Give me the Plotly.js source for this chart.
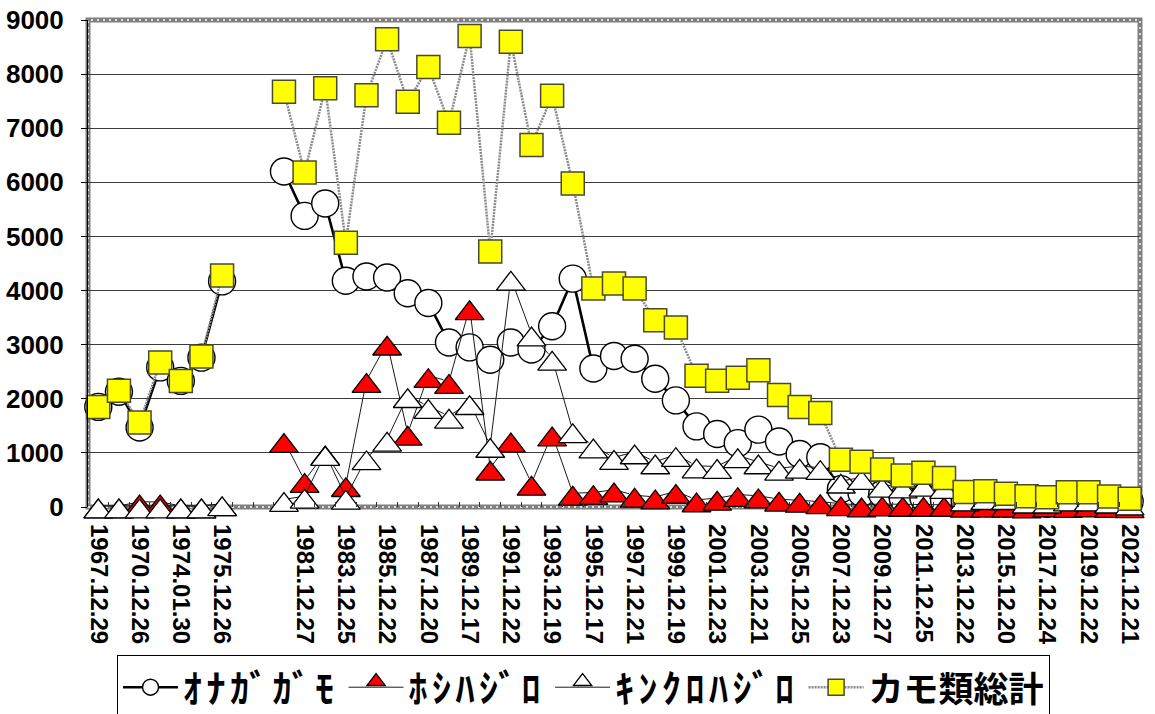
<!DOCTYPE html>
<html>
<head>
<meta charset="utf-8">
<script src="https://cdn.plot.ly/plotly-3.0.1.min.js"></script>
<style>
html,body{margin:0;padding:0;background:#fff;}
#chart{width:1155px;height:714px;}
</style>
</head>
<body>
<div id="chart"></div>
<script>
// Survey dates (categories). "gap1"/"gap2" are empty categories with no survey.
const dates = [
  "1967.12.29","1968.12.29","1970.12.26","1972.12.24","1974.01.30","1974.12.29","1975.12.26",
  "gap1","gap2",
  "1980.12.28","1981.12.27","1982.12.26","1983.12.25","1984.12.23","1985.12.22","1986.12.21",
  "1987.12.20","1988.12.18","1989.12.17","1990.12.23","1991.12.22","1992.12.20","1993.12.19",
  "1994.12.18","1995.12.17","1996.12.22","1997.12.21","1998.12.20","1999.12.19","2000.12.24",
  "2001.12.23","2002.12.22","2003.12.21","2004.12.19","2005.12.25","2006.12.24","2007.12.23",
  "2008.12.21","2009.12.27","2010.12.26","2011.12.25","2012.12.23","2013.12.22","2014.12.21",
  "2015.12.20","2016.12.25","2017.12.24","2018.12.23","2019.12.22","2020.12.20","2021.12.21"
];
// Tick labels: every other category, blanks for empty categories
const tickLabels = dates.map((d, i) => (i % 2 === 0 && d.indexOf('.') > 0) ? d : '');

const seriesNames = ["ｵﾅｶﾞｶﾞﾓ", "ﾎｼﾊｼﾞﾛ", "ｷﾝｸﾛﾊｼﾞﾛ", "カモ類総計"];

const onagagamo = [1850,2130,1470,2580,2330,2760,4170, null,null,
  6200,5380,5610,4180,4260,4240,3950,3770,3040,2950,2720,3040,2910,3340,4220,2560,2790,2740,
  2370,1970,1490,1350,1180,1430,1210,980,920,330,260,240,160,170,120,100,90,60,150,60,100,90,70,100];

const hoshihajiro = [20,20,95,95,20,20,60, null,null,
  1230,490,1000,415,2340,3030,1365,2430,2320,3685,720,1240,440,1350,255,268,318,218,
  185,290,133,163,231,207,145,126,100,60,40,55,50,50,50,35,35,35,20,40,30,40,30,25];

const kinkurohajiro = [20,20,20,20,20,20,60, null,null,
  140,200,990,180,910,1255,2060,1860,1680,1930,1140,4230,3200,2750,1410,1130,915,1020,
  835,970,760,750,950,835,718,755,730,480,545,405,390,420,380,150,175,175,110,110,150,150,110,75];

const kamoTotal = [1850,2150,1560,2670,2330,2780,4280, null,null,
  7675,6180,7740,4885,7610,8645,7490,8130,7100,8705,4720,8600,6690,7600,5980,4040,4130,4040,
  3450,3315,2425,2335,2390,2525,2070,1850,1735,875,835,695,580,632,535,275,290,245,200,181,274,274,194,152];

const yTicks = [0,1000,2000,3000,4000,5000,6000,7000,8000,9000];

// upward triangle, nudged so that its box is centred on the value (as in the original)
const triMarker = (fill) => ({symbol: 'triangle-up', standoff: 5.7, size: 25,
  color: fill, line: {color: '#000000', width: 1.3}});

const legendName = (s) => '<span style="letter-spacing:4.5px">' + s + '</span>';

const traces = [
  {
    x: dates, y: onagagamo, name: legendName(seriesNames[0]), type: 'scatter', mode: 'lines+markers',
    connectgaps: false, cliponaxis: false,
    line: {color: '#000000', width: 2.6},
    marker: {symbol: 'circle', size: 27, color: '#ffffff', line: {color: '#000000', width: 1.4}}
  },
  {
    x: dates, y: hoshihajiro, name: legendName(seriesNames[1]), type: 'scatter', mode: 'lines+markers',
    connectgaps: false, cliponaxis: false,
    line: {color: '#1a1a1a', width: 1},
    marker: triMarker('#ff0000')
  },
  {
    x: dates, y: kinkurohajiro, name: legendName(seriesNames[2]), type: 'scatter', mode: 'lines+markers',
    connectgaps: false, cliponaxis: false,
    line: {color: '#1a1a1a', width: 1},
    marker: triMarker('#ffffff')
  },
  {
    x: dates, y: kamoTotal, name: '<span style="font-size:35px">' + seriesNames[3] + '</span>',
    type: 'scatter', mode: 'lines+markers',
    connectgaps: false, cliponaxis: false,
    line: {color: '#8a8a8a', width: 2.5, dash: '2px,1px'},
    marker: {symbol: 'square', size: 23, color: '#ffff00', line: {color: '#4a4a30', width: 1.5}}
  }
];

const layout = {
  width: 1155, height: 714,
  margin: {l: 88, r: 15, t: 20, b: 207, autoexpand: false},
  paper_bgcolor: '#ffffff', plot_bgcolor: '#ffffff',
  font: {family: '"Liberation Sans", Arial, sans-serif', color: '#000000'},
  showlegend: true,
  xaxis: {
    type: 'category', categoryorder: 'array', categoryarray: dates,
    range: [-0.5, dates.length - 0.5],
    tickmode: 'array', tickvals: dates, ticktext: tickLabels,
    tickson: 'boundaries', ticks: 'inside', ticklen: 5, tickwidth: 1, tickcolor: '#333333',
    tickangle: 90, tickfont: {size: 24, color: '#000000', weight: 'bold'},
    ticklabelstandoff: 16,
    showgrid: false, zeroline: false, showline: false, fixedrange: true
  },
  yaxis: {
    range: [0, 9000], tickmode: 'array', tickvals: yTicks,
    ticks: 'outside', ticklen: 6, tickwidth: 1, tickcolor: '#000000',
    tickfont: {size: 26, color: '#000000', weight: 'bold'},
    ticklabelstandoff: 12,
    showgrid: true, gridcolor: '#3c3c3c', gridwidth: 1.2,
    zeroline: false, showline: true, linecolor: '#000000', linewidth: 1, fixedrange: true
  },
  shapes: [
    {type: 'rect', xref: 'paper', yref: 'paper', x0: 0, x1: 1, y0: 0, y1: 1, layer: 'between',
     line: {color: '#7f7f7f', width: 5}},
    {type: 'rect', xref: 'paper', yref: 'paper', x0: 0, x1: 1, y0: 0, y1: 1, layer: 'between',
     line: {color: '#ffffff', width: 1.4, dash: '2px,4px'}}
  ],
  legend: {
    orientation: 'h', x: 0.0276, y: -0.3039, xanchor: 'left', yanchor: 'top',
    bgcolor: '#ffffff', bordercolor: '#000000', borderwidth: 1,
    font: {family: '"Noto Sans CJK JP", sans-serif', size: 38, color: '#000000', weight: 'bold'},
    itemwidth: 55, itemsizing: 'trace', traceorder: 'normal'
  }
};

Plotly.newPlot('chart', traces, layout, {displayModeBar: false, staticPlot: true});
</script>
</body>
</html>
